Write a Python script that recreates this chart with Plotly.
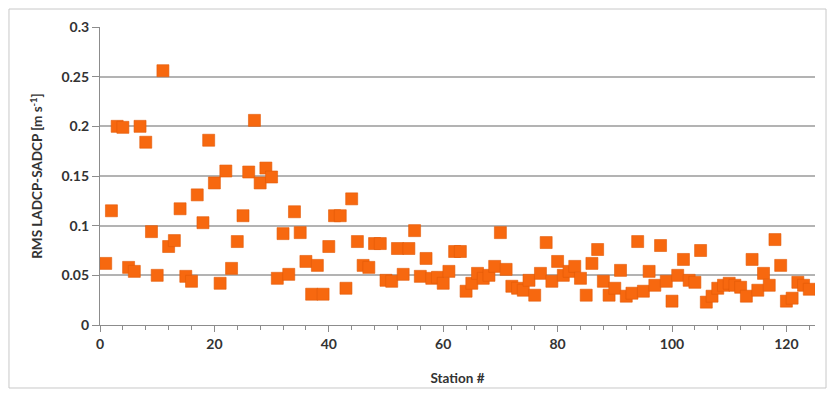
import plotly.graph_objects as go

stations = list(range(1, 125))
rms = [
    0.062, 0.115, 0.200, 0.199, 0.058, 0.054, 0.200, 0.184, 0.094, 0.050,
    0.256, 0.079, 0.085, 0.117, 0.049, 0.044, 0.131, 0.103, 0.186, 0.143,
    0.042, 0.155, 0.057, 0.084, 0.110, 0.154, 0.206, 0.143, 0.158, 0.149,
    0.047, 0.092, 0.051, 0.114, 0.093, 0.064, 0.031, 0.060, 0.031, 0.079,
    0.110, 0.110, 0.037, 0.127, 0.084, 0.060, 0.058, 0.082, 0.082, 0.045,
    0.044, 0.077, 0.051, 0.077, 0.095, 0.049, 0.067, 0.047, 0.048, 0.042,
    0.054, 0.074, 0.074, 0.034, 0.042, 0.052, 0.047, 0.050, 0.059, 0.093,
    0.056, 0.039, 0.037, 0.035, 0.045, 0.030, 0.052, 0.083, 0.044, 0.064,
    0.050, 0.054, 0.059, 0.047, 0.030, 0.062, 0.076, 0.044, 0.030, 0.037,
    0.055, 0.029, 0.032, 0.084, 0.034, 0.054, 0.040, 0.080, 0.044, 0.024,
    0.050, 0.066, 0.045, 0.043, 0.075, 0.023, 0.029, 0.037, 0.040, 0.042,
    0.040, 0.038, 0.029, 0.066, 0.035, 0.052, 0.040, 0.086, 0.060, 0.024,
    0.027, 0.043, 0.040, 0.036,
]

x_title = "Station #"
y_title = "RMS LADCP-SADCP [m s<sup>-1</sup>]"

fig = go.Figure()
fig.add_trace(go.Scatter(
    x=stations, y=rms, mode="markers",
    marker=dict(symbol="square", size=12, color="#F7680F",
                line=dict(color="#E35A08", width=0.6)),
    showlegend=False,
))

tick_font = dict(family="Lato", size=14, color="#333333", weight="bold")
title_font = dict(family="Lato", size=13.5, color="#333333", weight="bold")

fig.update_layout(
    width=838, height=398,
    margin=dict(l=100, r=23, t=27, b=73),
    paper_bgcolor="white", plot_bgcolor="white",
    xaxis=dict(
        range=[0, 125], dtick=20, tick0=0,
        showgrid=False, zeroline=False,
        showline=True, linecolor="#8c8c8c", linewidth=1.2,
        ticks="outside", ticklen=6, tickcolor="#8c8c8c",
        minor=dict(dtick=4, ticks="outside", ticklen=4, tickcolor="#8c8c8c", showgrid=False),
        tickfont=tick_font,
        title=dict(text=x_title, font=title_font, standoff=22),
    ),
    yaxis=dict(
        range=[0, 0.3], dtick=0.05, tick0=0,
        showgrid=True, gridcolor="#b3b3b3", gridwidth=1.6,
        zeroline=False,
        showline=True, linecolor="#8c8c8c", linewidth=1.2,
        ticks="outside", ticklen=7, tickcolor="#8c8c8c",
        tickfont=tick_font,
        title=dict(text=y_title, font=title_font, standoff=15),
    ),
    shapes=[dict(
        type="rect", xref="paper", yref="paper",
        x0=-0.1273, x1=1.0154, y0=-0.2114, y1=1.0604,
        line=dict(color="#c8c8c8", width=1), fillcolor="rgba(0,0,0,0)", layer="below",
    )],
)

fig.write_html("out.html")
